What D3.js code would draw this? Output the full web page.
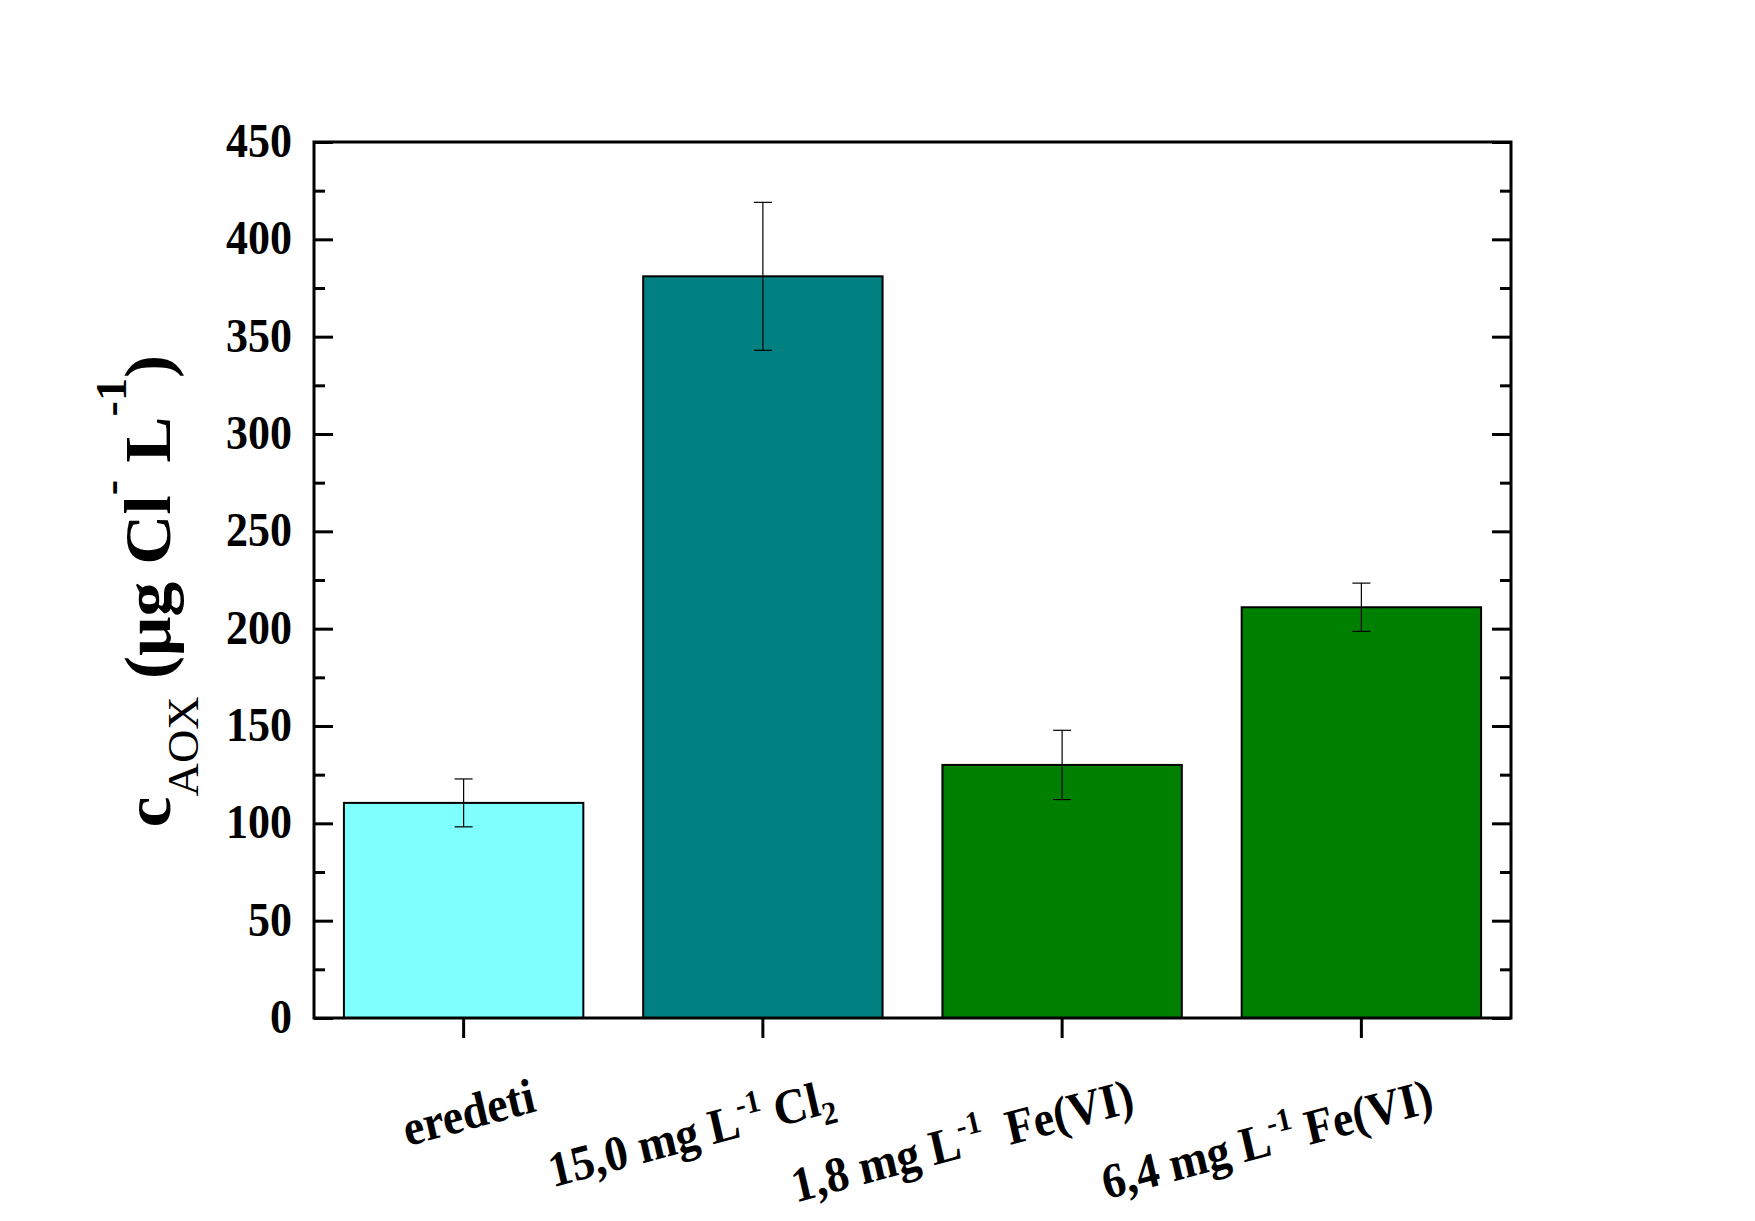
<!DOCTYPE html>
<html>
<head>
<meta charset="utf-8">
<script src="https://cdn.jsdelivr.net/npm/d3@7"></script>
<style>
body { margin: 0; background: #fff; }
text { font-family: "Liberation Serif", "Times New Roman", serif; font-weight: bold; }
</style>
</head>
<body>
<div id="chart"></div>
<script>
var categories = ["eredeti", "15,0 mg L-1 Cl2", "1,8 mg L-1 Fe(VI)", "6,4 mg L-1 Fe(VI)"];
var values = [110.5, 381, 130, 211];
var errors = [12.3, 38, 17.8, 12.4];
var barColors = ["#80ffff", "#008080", "#008000", "#008000"];
var yTicks = [0, 50, 100, 150, 200, 250, 300, 350, 400, 450];
var yMinorTicks = [25, 75, 125, 175, 225, 275, 325, 375, 425];

// pieces of the tick labels: normal text, superscript, subscript
var labelParts = [
    [["eredeti", "n"]],
    [["15,0 mg L", "n"], ["-1", "sup"], [" Cl", "n"], ["2", "sub"]],
    [["1,8 mg L", "n"], ["-1", "sup"], ["  Fe(VI)", "n"]],
    [["6,4 mg L", "n"], ["-1", "sup"], [" Fe(VI)", "n"]]
];
var yTitleParts = [["c", "n"], ["AOX", "sub"], [" (\u03bcg Cl", "n"], ["-", "sup"], [" L", "n"], ["-1", "sup"], [")", "n"]];

var width = 1755, height = 1221;
var margin = {top: 142, right: 244, bottom: 203, left: 314};

var svg = d3.select("#chart")
    .append("svg")
    .attr("width", width)
    .attr("height", height);

var x = d3.scaleBand()
    .domain(categories)
    .range([margin.left, width - margin.right])
    .paddingInner(0.2)
    .paddingOuter(0.1);

var y = d3.scaleLinear()
    .domain([0, 450])
    .range([height - margin.bottom, margin.top]);

function richText(sel, parts, size, smallSize, supShift, subShift) {
    var cur = 0;
    parts.forEach(function(p) {
        var target = p[1] == "sup" ? -supShift : (p[1] == "sub" ? subShift : 0);
        sel.append("tspan")
            .attr("dy", target - cur)
            .attr("font-size", p[1] == "n" ? size : smallSize)
            .attr("font-weight", p[1] == "sub" && size > 50 ? "normal" : "bold")
            .text(p[0]);
        cur = target;
    });
}

// bars
svg.selectAll(".bar")
    .data(values)
    .enter().append("rect")
    .attr("class", "bar")
    .attr("x", function(d, i) { return x(categories[i]); })
    .attr("y", function(d) { return y(d); })
    .attr("width", x.bandwidth())
    .attr("height", function(d) { return y(0) - y(d); })
    .style("fill", function(d, i) { return barColors[i]; })
    .style("stroke", "#000")
    .style("stroke-width", 2);

// error bars
var err = svg.append("g").attr("stroke", "#000").attr("stroke-width", 1.2);
values.forEach(function(v, i) {
    var cx = x(categories[i]) + x.bandwidth() / 2;
    err.append("line").attr("x1", cx).attr("x2", cx).attr("y1", y(v + errors[i])).attr("y2", y(v - errors[i]));
    err.append("line").attr("x1", cx - 9).attr("x2", cx + 9).attr("y1", y(v + errors[i])).attr("y2", y(v + errors[i]));
    err.append("line").attr("x1", cx - 9).attr("x2", cx + 9).attr("y1", y(v - errors[i])).attr("y2", y(v - errors[i]));
});

// left axis, ticks inward
var left = svg.append("g")
    .attr("transform", "translate(" + margin.left + ",0)")
    .call(d3.axisLeft(y).tickValues(yTicks).tickSizeInner(-19).tickSizeOuter(0).tickPadding(22));
left.selectAll("text")
    .attr("font-size", 44)
    .attr("font-family", null)
    .attr("fill", "#000")
    .attr("dy", "0.3em")
    .attr("transform", "scale(1,1.1)");
svg.append("g")
    .attr("transform", "translate(" + margin.left + ",0)")
    .call(d3.axisLeft(y).tickValues(yMinorTicks).tickSizeInner(-11).tickSizeOuter(0).tickFormat(""));

// right axis, ticks inward
svg.append("g")
    .attr("transform", "translate(" + (width - margin.right) + ",0)")
    .call(d3.axisRight(y).tickValues(yTicks).tickSizeInner(-19).tickSizeOuter(0).tickFormat(""));
svg.append("g")
    .attr("transform", "translate(" + (width - margin.right) + ",0)")
    .call(d3.axisRight(y).tickValues(yMinorTicks).tickSizeInner(-11).tickSizeOuter(0).tickFormat(""));

// bottom axis, ticks outward
svg.append("g")
    .attr("transform", "translate(0," + y(0) + ")")
    .call(d3.axisBottom(x).tickSizeInner(20).tickSizeOuter(0).tickFormat(""));

svg.selectAll(".domain").remove();
svg.selectAll(".tick line").attr("stroke", "#000").attr("stroke-width", 3);

// frame
svg.append("rect")
    .attr("x", margin.left)
    .attr("y", margin.top)
    .attr("width", width - margin.left - margin.right)
    .attr("height", height - margin.top - margin.bottom)
    .attr("fill", "none")
    .attr("stroke", "#000")
    .attr("stroke-width", 3);

// category labels, rotated
categories.forEach(function(c, i) {
    var ex = x(c) + x.bandwidth() / 2 + 74;
    var ey = 1111;
    var t = svg.append("text")
        .attr("transform", "translate(" + ex + "," + ey + ") scale(1,1.08) rotate(-14)")
        .attr("text-anchor", "end")
        .style("white-space", "pre")
        .attr("fill", "#000");
    richText(t, labelParts[i], 46, 30, 19, 10);
});

// y axis title
var yt = svg.append("text")
    .attr("transform", "translate(170," + ((margin.top + height - margin.bottom) / 2 + 11) + ") scale(1,1.05) rotate(-90)")
    .attr("text-anchor", "middle")
    .style("white-space", "pre")
    .attr("fill", "#000");
richText(yt, yTitleParts, 66, 44, 44, 28);
</script>
</body>
</html>
